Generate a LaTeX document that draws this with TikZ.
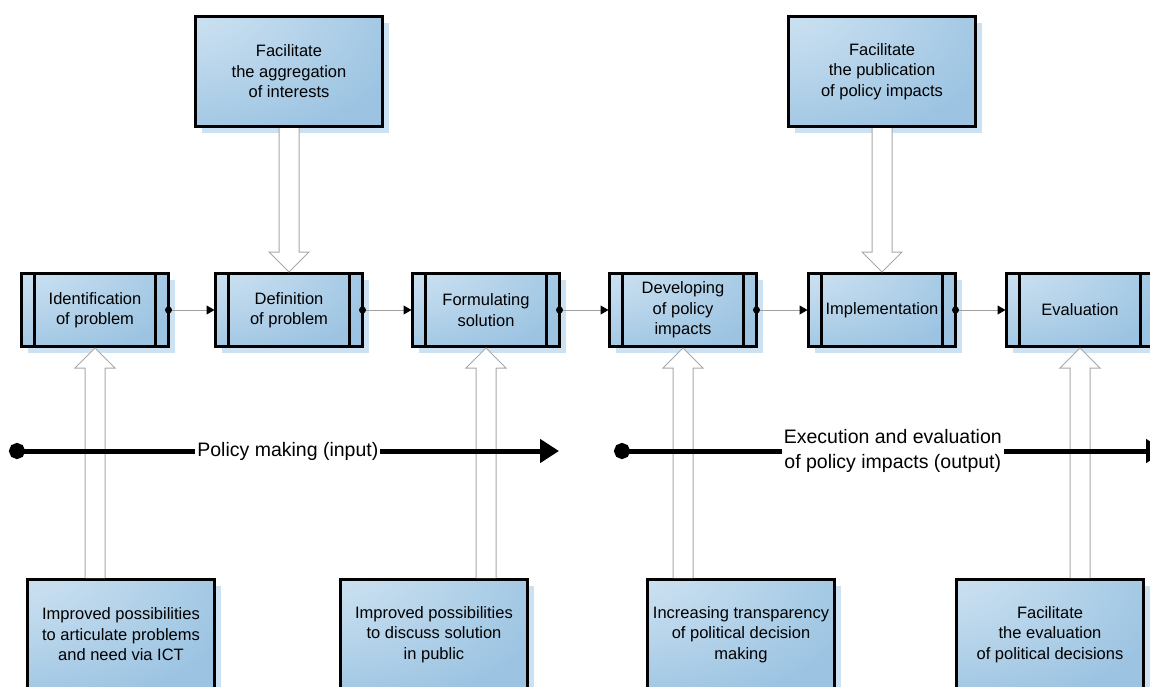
\documentclass[tikz,border=0pt]{standalone}
\usepackage{fontspec}
\setmainfont{Liberation Sans}
\usetikzlibrary{arrows.meta,shadows,calc}
\definecolor{boxlight}{HTML}{DDEBF6}
\definecolor{boxblue}{HTML}{9CC4E2}
\definecolor{shadowc}{HTML}{CCE1F1}
\definecolor{connc}{HTML}{A0A0A0}
\definecolor{hollowc}{HTML}{A8A8A8}
\pgfdeclareradialshading{boxshade}{\pgfpoint{-50bp}{50bp}}{color(0bp)=(boxlight); color(8bp)=(boxlight); color(55bp)=(boxblue); color(100bp)=(boxblue)}
\tikzset{
  txt/.style={font=\fontsize{16.5}{20.5}\selectfont, align=center, text=black},
  bigbox/.style={txt, draw=black, line width=3pt, shade, shading=boxshade,
    minimum width=187pt, minimum height=110pt, inner sep=0pt, outer sep=0pt,
    drop shadow={shadow xshift=6pt, shadow yshift=-6pt, fill=shadowc, opacity=1}},
  procbox/.style={bigbox, minimum width=147pt, minimum height=73pt},
  strip/.style={draw=black, line width=3pt},
  conn/.style={draw=connc, line width=1pt, -{Triangle[length=8pt,width=9pt,color=black]}},
  hollow/.style={draw=hollowc, fill=white, line width=1pt},
  timeline/.style={draw=black, line width=5pt, {Circle[length=16pt]}-{Triangle[length=19pt,width=23pt]}},
  tlabel/.style={fill=white, inner xsep=2pt, inner ysep=0pt, align=center,
    font=\fontsize{19.5}{25}\selectfont, text=black}
}
\newcommand{\hollowarrow}[2]{%
  \path[hollow] let \p1=(#1), \p2=(#2), \n1={sign(\y2-\y1)} in
    ({\x1-10pt},\y1) -- ({\x1-10pt},{\y2-\n1*20pt}) -- ({\x1-20pt},{\y2-\n1*20pt})
    -- (\x2,\y2) -- ({\x1+20pt},{\y2-\n1*20pt}) -- ({\x1+10pt},{\y2-\n1*20pt}) -- ({\x1+10pt},\y1);
}
\begin{document}
\begin{tikzpicture}[x=1pt,y=-1pt]
\useasboundingbox (0,0) rectangle (1150,686);
\clip (0,0) rectangle (1150,686);

% top boxes
\node[bigbox] (a) at (289,71.5) {Facilitate\\the aggregation\\of interests};
\node[bigbox] (b) at (882,71.5) {Facilitate\\the publication\\of policy impacts};

% process boxes
\node[procbox] (p1) at (95,310)  {Identification\\of problem};
\node[procbox] (p2) at (289,310) {Definition\\of problem};
\node[procbox] (p3) at (486,310) {Formulating\\solution};
\node[procbox] (p4) at (683,310) {Developing\\of policy\\impacts};
\node[procbox] (p5) at (882,310) {Implementation};
\node[procbox] (p6) at (1080,310) {Evaluation};
\foreach \n in {p1,p2,p3,p4,p5,p6}{
  \draw[strip] ([xshift=13pt]\n.north west) -- ([xshift=13pt]\n.south west);
  \draw[strip] ([xshift=-13pt]\n.north east) -- ([xshift=-13pt]\n.south east);
}

% bottom boxes
\node[bigbox] (c) at (121,634.5) {Improved possibilities\\to articulate problems\\and need via ICT};
\node[bigbox] (d) at (434,634.5) {Improved possibilities\\to discuss solution\\in public};
\node[bigbox] (e) at (741,634.5) {Increasing transparency\\of political decision\\making};
\node[bigbox] (f) at (1050,634.5) {Facilitate\\the evaluation\\of political decisions};

% connectors between process steps
\foreach \s/\t in {p1/p2,p2/p3,p3/p4,p4/p5,p5/p6}{
  \draw[conn] (\s.east) -- ([xshift=-1pt]\t.west);
  \fill[black] (\s.east) circle (3.5pt);
}

% hollow arrows
\hollowarrow{[yshift=-1.5pt]a.south}{[yshift=1.5pt]p2.north}
\hollowarrow{[yshift=-1.5pt]b.south}{[yshift=1.5pt]p5.north}
\hollowarrow{$(p1.south |- c.north)+(0,-1.5)$}{[yshift=-1.5pt]p1.south}
\hollowarrow{$(p3.south |- d.north)+(0,-1.5)$}{[yshift=-1.5pt]p3.south}
\hollowarrow{$(p4.south |- e.north)+(0,-1.5)$}{[yshift=-1.5pt]p4.south}
\hollowarrow{$(p6.south |- f.north)+(0,-1.5)$}{[yshift=-1.5pt]p6.south}

% timelines
\coordinate (t1s) at (9,451);
\coordinate (t1e) at (559,451);
\coordinate (t2s) at (614,451);
\coordinate (t2e) at (1165,451);
\draw[timeline] (t1s) -- node[tlabel, pos=0.507] (l1) {Policy making (input)} (t1e);
\draw[timeline] (t2s) -- node[tlabel, pos=0.506] (l2) {Execution and evaluation\\of policy impacts (output)} (t2e);
\end{tikzpicture}
\end{document}
